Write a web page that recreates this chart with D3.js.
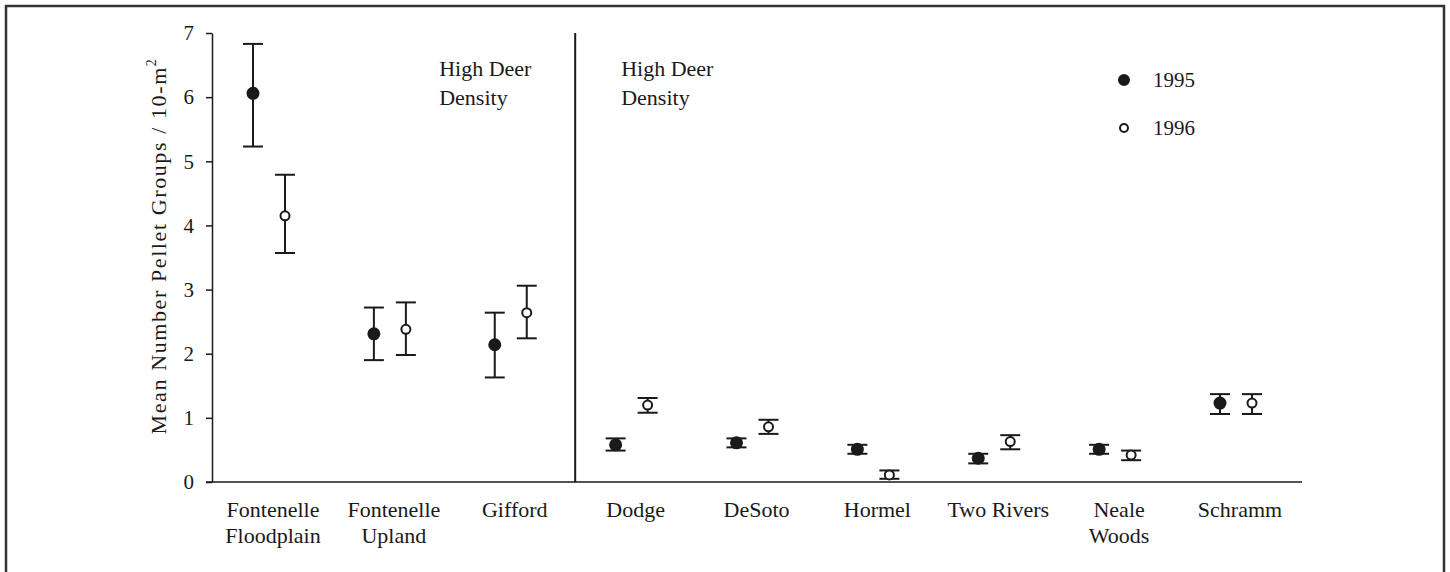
<!DOCTYPE html>
<meta charset="utf-8">
<html>
<script src="https://d3js.org/d3.v7.min.js"></script>
<style>
    body { margin: 0; background: #fff; }
    svg text { font-family: "Liberation Serif", "Times New Roman", serif; fill: #1a1a1a; }
</style>
<body>
<svg id="chart"></svg>
<script>
    // ---- data ----
    const sites = ["Fontenelle\nFloodplain", "Fontenelle\nUpland", "Gifford", "Dodge", "DeSoto",
                   "Hormel", "Two Rivers", "Neale\nWoods", "Schramm"];
    const mean1995 = [6.06, 2.31, 2.14, 0.58, 0.61, 0.51, 0.37, 0.51, 1.23];
    const lo1995   = [5.23, 1.90, 1.63, 0.49, 0.54, 0.44, 0.29, 0.44, 1.06];
    const hi1995   = [6.83, 2.72, 2.64, 0.68, 0.68, 0.58, 0.44, 0.58, 1.37];
    const mean1996 = [4.15, 2.38, 2.64, 1.20, 0.86, 0.11, 0.63, 0.42, 1.23];
    const lo1996   = [3.57, 1.98, 2.24, 1.08, 0.75, 0.05, 0.51, 0.34, 1.06];
    const hi1996   = [4.79, 2.80, 3.06, 1.31, 0.97, 0.18, 0.73, 0.49, 1.37];
    const yTicks = [0, 1, 2, 3, 4, 5, 6, 7];
    const years = ["1995", "1996"];

    let width = 1450, height = 572;
    const ink = "#1a1a1a";

    let svg = d3.select("#chart")
        .attr("width", width)
        .attr("height", height);

    // outer frame (bottom edge runs off the picture)
    svg.append("path")
        .attr("d", "M6,600 V6 H1444 V600")
        .attr("fill", "none")
        .attr("stroke", "#333")
        .attr("stroke-width", 2.5);

    // scales
    let y = d3.scaleLinear().domain([0, 7]).range([482, 33]);
    let x = d3.scalePoint().domain(sites).range([269, 1236]);
    const off = 16; // year offset within a site

    // y axis
    svg.append("g")
        .attr("transform", "translate(212,0)")
        .call(d3.axisLeft(y).tickValues(yTicks).tickFormat(d3.format("d"))
            .tickSize(6).tickSizeOuter(0).tickPadding(12))
        .call(g => g.selectAll("path, line").attr("stroke", ink).attr("stroke-width", 1.5))
        .call(g => g.selectAll("text").attr("font-size", 21).attr("font-family", "Liberation Serif").attr("fill", ink));

    // x axis line
    svg.append("line")
        .attr("x1", 206).attr("x2", 1302)
        .attr("y1", y(0)).attr("y2", y(0))
        .attr("stroke", ink).attr("stroke-width", 1.5);

    // divider between groups
    let divX = (x(sites[2]) + x(sites[3])) / 2 + 4;
    svg.append("line")
        .attr("x1", divX).attr("x2", divX)
        .attr("y1", y(7)).attr("y2", y(0))
        .attr("stroke", ink).attr("stroke-width", 2);

    // x labels
    let xl = svg.append("g").selectAll("text")
        .data(sites).enter().append("text")
        .attr("text-anchor", "middle")
        .attr("font-size", 22)
        .attr("x", d => x(d) + 4)
        .attr("y", 517);
    xl.selectAll("tspan")
        .data(d => d.split("\n").map(s => [s, x(d) + 4]))
        .enter().append("tspan")
        .attr("x", d => d[1])
        .attr("dy", (d, i) => i ? 26 : 0)
        .text(d => d[0]);

    // y title
    let yt = svg.append("text")
        .attr("transform", "translate(166,246) rotate(-90)")
        .attr("text-anchor", "middle")
        .attr("font-size", 22)
        .attr("letter-spacing", 1.6);
    yt.append("tspan").text("Mean Number Pellet Groups / 10-m");
    yt.append("tspan").attr("dy", -10).attr("font-size", 14).text("2");

    // annotations
    [sites[0], sites[3]].forEach((s, k) => {
        let tx = k ? divX + 46 : divX - 136;
        let t = svg.append("text").attr("font-size", 22).attr("x", tx).attr("y", 76);
        t.append("tspan").attr("x", tx).text("High Deer");
        t.append("tspan").attr("x", tx).attr("dy", 29).text("Density");
    });

    // error bars + points
    const series = [
        { mean: mean1995, lo: lo1995, hi: hi1995, dx: -off, fill: ink },
        { mean: mean1996, lo: lo1996, hi: hi1996, dx: off, fill: "#fff" }
    ];
    series.forEach(sr => {
        let g = svg.append("g");
        sites.forEach((s, i) => {
            let cx = x(s) + sr.dx;
            g.append("line")
                .attr("x1", cx).attr("x2", cx)
                .attr("y1", y(sr.lo[i])).attr("y2", y(sr.hi[i]))
                .attr("stroke", ink).attr("stroke-width", 2);
            [sr.lo[i], sr.hi[i]].forEach(v => {
                g.append("line")
                    .attr("x1", cx - 10).attr("x2", cx + 10)
                    .attr("y1", y(v)).attr("y2", y(v))
                    .attr("stroke", ink).attr("stroke-width", 2);
            });
            g.append("circle")
                .attr("cx", cx).attr("cy", y(sr.mean[i]))
                .attr("r", sr.fill === ink ? 5.5 : 4.5)
                .attr("fill", sr.fill)
                .attr("stroke", ink).attr("stroke-width", 2);
        });
    });

    // legend
    years.forEach((yr, i) => {
        let ly = 80 + i * 48;
        svg.append("circle")
            .attr("cx", 1124).attr("cy", ly)
            .attr("r", i ? 4 : 5)
            .attr("fill", i ? "#fff" : ink)
            .attr("stroke", ink).attr("stroke-width", 2);
        svg.append("text")
            .attr("x", 1153).attr("y", ly + 7)
            .attr("font-size", 21)
            .text(yr);
    });
</script>
</body>
</html>
